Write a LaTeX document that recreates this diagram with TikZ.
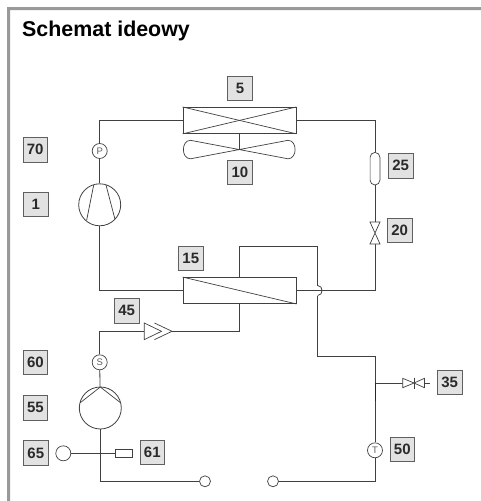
\documentclass[tikz,border=0pt]{standalone}
\usepackage{fontspec}
\setmainfont{Liberation Sans}
\tikzset{
  every picture/.style={x=1pt,y=-1pt},
  pipe/.style={draw=pipegray,line width=0.8pt},
  sym/.style={draw=pipegray,line width=0.7pt},
  tag/.style={draw=taggray,fill=tagfill,line width=0.8pt,minimum width=24.5pt,minimum height=24.5pt,inner sep=0pt,font=\fontsize{15}{16}\selectfont\bfseries,text=textdark},
  probe/.style={circle,draw=pipegray,fill=white,line width=0.7pt,minimum size=15pt,inner sep=0pt,font=\fontsize{9.5}{10}\selectfont,text=taggray},
  port/.style={circle,draw=pipegray,fill=white,line width=0.7pt,minimum size=11pt,inner sep=0pt},
  bigport/.style={circle,draw=pipegray,fill=white,line width=0.7pt,minimum size=15pt,inner sep=0pt},
  machine/.style={circle,draw=pipegray,fill=white,line width=0.8pt,minimum size=42pt,inner sep=0pt},
  hx/.style={rectangle,draw=pipegray,fill=white,line width=0.9pt,minimum width=113pt,minimum height=26pt,inner sep=0pt},
}
\definecolor{pipegray}{HTML}{404040}
\definecolor{taggray}{HTML}{606060}
\definecolor{tagfill}{HTML}{E2E2E2}
\definecolor{textdark}{HTML}{2A2A2A}
\definecolor{framegray}{HTML}{999999}
\begin{document}
\begin{tikzpicture}
\useasboundingbox (0,0) rectangle (481,501);
\fill[white] (0,0) rectangle (481,501);
\fill[framegray] (481,7) -- (7,7) -- (7,501) -- (10.2,501) -- (10.2,10.2) -- (481,10.2) -- cycle;
\node[anchor=base west,inner sep=0pt,font=\fontsize{21.4}{24}\selectfont\bfseries] at (22,36) {Schemat ideowy};

% main components
\node[hx] (cond) at (239.5,120.4) {};
\node[hx] (ihx) at (239.5,290.5) {};
\node[machine] (comp) at (99.7,204.8) {};
\node[machine] (pump) at (100.3,408) {};
\node[probe] (pp) at (99.7,151) {P};
\node[probe] (ps) at (99.7,362.3) {S};
\node[probe] (pt) at (375,450.3) {T};
\node[port] (pl) at (205,481.3) {};
\node[port] (pr) at (273,481.3) {};
\node[bigport] (s65) at (63.3,453.3) {};
\node[rectangle,draw=pipegray,fill=white,line width=0.7pt,minimum width=17.3pt,minimum height=8.7pt,inner sep=0pt] (r61) at (123.7,453.3) {};
\node[rectangle,rounded corners=4.8pt,draw=pipegray,fill=white,line width=0.7pt,minimum width=9.8pt,minimum height=32.5pt,inner sep=0pt] (recv) at (375,168.7) {};

% coordinates
\coordinate (c1) at (99.7,120.4);
\coordinate (c2) at (375,120.4);
\coordinate (c3) at (99.7,290.5);
\coordinate (c4) at (375,290.5);
\coordinate (v20t) at (375,222);
\coordinate (v20b) at (375,244);
\coordinate (t1) at (239.3,246);
\coordinate (t2) at (317.7,246);
\coordinate (h1) at (317.7,285.5);
\coordinate (h2) at (317.7,295.5);
\coordinate (t3) at (317.7,356.7);
\coordinate (t4) at (375,356.7);
\coordinate (j35) at (375,383);
\coordinate (v35a) at (402.7,383);
\coordinate (v35m) at (414,383);
\coordinate (v35b) at (424.5,383);
\coordinate (v35e) at (430,383);
\coordinate (c5) at (375,481.3);
\coordinate (b1) at (239.3,331.3);
\coordinate (ck) at (172,331.3);
\coordinate (ckb) at (144.3,331.3);
\coordinate (c6) at (99.7,331.3);
\coordinate (c7) at (100.3,481.3);

% pipes
\draw[pipe] (cond.west |- c1) -- (c1) -- (pp);
\draw[pipe] (pp) -- (comp);
\draw[pipe] (comp) -- (c3) -- (ihx.west |- c3);
\draw[pipe] (cond.east |- c2) -- (c2) -- (recv);
\draw[pipe] (recv) -- (v20t);
\draw[pipe] (v20b) -- (c4) -- (ihx.east |- c4);
\draw[pipe] (ihx.north -| t1) -- (t1) -- (t2) -- (h1);
\draw[pipe] (h1) .. controls (323.5,285.5) and (323.5,295.5) .. (h2);
\draw[pipe] (h2) -- (t3) -- (t4) -- (pt);
\draw[pipe] (pt) -- (c5) -- (pr);
\draw[pipe] (j35) -- (v35a);
\draw[pipe] (v35b) -- (v35e);
\draw[pipe,line width=0.95pt,draw=black!85] (j35) -- (375,401);
\draw[pipe] (ihx.south -| b1) -- (b1) -- (ck);
\draw[pipe] (ckb) -- (c6) -- (ps);
\draw[pipe] (ps) -- (pump);
\draw[pipe] (pump) -- (c7) -- (pl);
\draw[pipe] (s65) -- (r61);

% heat exchanger inner lines
\draw[sym] (cond.north west) -- (cond.south east);
\draw[sym] (cond.south west) -- (cond.north east);
\draw[sym] (ihx.north west) -- (ihx.south east);

% fan
\coordinate (fanc) at (239.5,149.5);
\draw[pipe] (cond.south) -- (fanc);
\draw[sym] (190.5,140.3) -- (288,158.8) .. controls (297.5,158.8) and (297.5,140.3) .. (288,140.3) -- (190.5,158.8) .. controls (181,158.8) and (181,140.3) .. (190.5,140.3) -- cycle;

% compressor and pump inner lines
\draw[sym] (93.7,185) -- (86.7,220);
\draw[sym] (106,185) -- (115,219.3);
\draw[sym] (80.3,402.7) -- (100.3,387) -- (120.5,402.7);

% valves
\draw[sym,fill=white] (370,222) -- (380,222) -- (370,244) -- (380,244) -- cycle;
\draw[sym,fill=white] (ckb) ++(0,-8.3) -- (161.5,331.3) -- (144.3,339.6) -- cycle;
\draw[sym] (154.5,323) -- (ck) -- (154.5,339.6);
\draw[sym,fill=white] (402.7,378.3) -- (v35m) -- (402.7,387.7) -- cycle;
\draw[sym,fill=white] (424.5,378.3) -- (v35m) -- (424.5,387.7) -- cycle;
\draw[sym] (414,377.5) -- (414,388.5);

% tags
\node[tag] (t5) at (240,88.2) {5};
\node[tag] (t10) at (240,172.5) {10};
\node[tag] (t70) at (35.2,149.7) {70};
\node[tag] (t1b) at (35.8,204.3) {1};
\node[tag] (t25) at (400.7,165.8) {25};
\node[tag] (t20) at (399.7,230.3) {20};
\node[tag] (t15) at (190.8,258.5) {15};
\node[tag] (t45) at (126.7,310.7) {45};
\node[tag] (t60) at (35.5,362.5) {60};
\node[tag] (t55) at (35.5,407.7) {55};
\node[tag] (t65) at (35.8,453) {65};
\node[tag] (t61) at (152.3,452.5) {61};
\node[tag] (t35) at (449.7,382.5) {35};
\node[tag] (t50) at (402.3,449.5) {50};
\end{tikzpicture}
\end{document}
